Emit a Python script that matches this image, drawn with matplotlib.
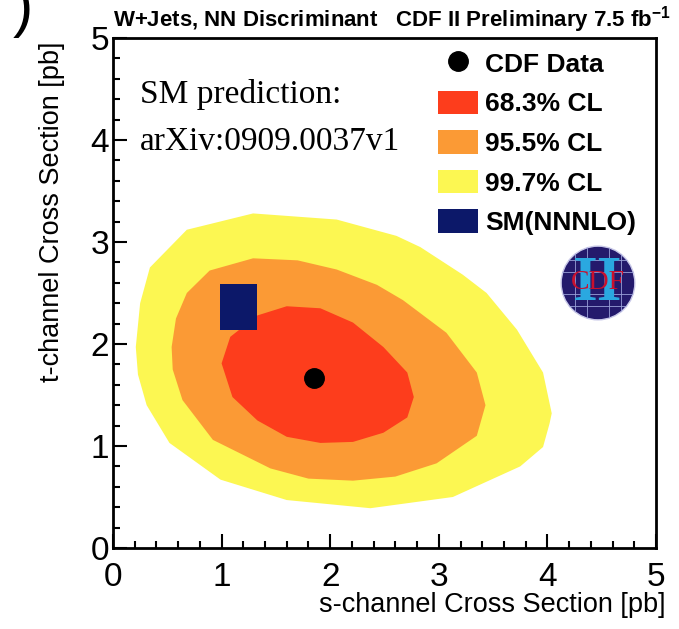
import numpy as np
import matplotlib
matplotlib.use("Agg")
from matplotlib import pyplot as plt
from matplotlib import patches as mpatches
from matplotlib.lines import Line2D

plt.rcParams['font.family'] = ['Liberation Sans', 'DejaVu Sans']
plt.rcParams['mathtext.fontset'] = 'custom'
plt.rcParams['mathtext.rm'] = 'Liberation Sans Narrow:bold'
plt.rcParams['mathtext.default'] = 'regular'

# contour boundaries (s-channel, t-channel in pb)
cl997_s = [0.21, 0.25, 0.34, 0.68, 1.29, 2.06, 2.61, 2.83, 3.22, 3.44, 3.72, 3.96,
           4.04, 4.02, 3.96, 3.75, 3.13, 2.37, 1.60, 0.99, 0.52, 0.31, 0.23]
cl997_t = [1.97, 2.40, 2.75, 3.12, 3.28, 3.22, 3.06, 2.95, 2.68, 2.50, 2.14, 1.72,
           1.32, 1.22, 0.99, 0.80, 0.50, 0.39, 0.47, 0.67, 1.03, 1.40, 1.70]

cl955_s = [0.54, 0.58, 0.68, 0.89, 1.29, 1.70, 2.06, 2.43, 2.67, 3.07, 3.35, 3.43,
           3.35, 2.98, 2.60, 2.21, 1.80, 1.45, 0.92, 0.64, 0.55]
cl955_t = [1.97, 2.25, 2.50, 2.72, 2.84, 2.82, 2.73, 2.58, 2.43, 2.11, 1.72, 1.40,
           1.10, 0.83, 0.70, 0.66, 0.68, 0.78, 1.06, 1.45, 1.75]

cl683_s = [1.00, 1.08, 1.33, 1.60, 1.91, 2.21, 2.49, 2.71, 2.77, 2.71, 2.49, 2.21,
           1.91, 1.60, 1.33, 1.10]
cl683_t = [1.81, 2.07, 2.28, 2.37, 2.35, 2.21, 1.97, 1.72, 1.48, 1.28, 1.13, 1.04,
           1.03, 1.09, 1.25, 1.48]

data_s = [1.85]
data_t = [1.67]
sm_s = [1.16]
sm_t = [2.365]

legend_labels = ['CDF Data', '68.3% CL', '95.5% CL', '99.7% CL', 'SM(NNNLO)']

red = '#fd3d1c'
orange = '#fb9a35'
yellow = '#fcf752'
navy = '#0c1869'

fig = plt.figure(figsize=(6.79, 6.29), dpi=100)
ax = fig.add_axes([0.1664, 0.1288, 0.7997, 0.8108])

ax.fill(cl997_s, cl997_t, color=yellow, lw=0, zorder=1)
ax.fill(cl955_s, cl955_t, color=orange, lw=0, zorder=2)
ax.fill(cl683_s, cl683_t, color=red, lw=0, zorder=3)
ax.plot(data_s, data_t, 'o', color='k', markersize=14, zorder=5)
for s, t in zip(sm_s, sm_t):
    ax.add_patch(mpatches.Rectangle((s - 0.17, t - 0.225), 0.34, 0.45,
                                    facecolor=navy, edgecolor='none', zorder=4))

ax.set_xlim(0, 5)
ax.set_ylim(0, 5)
ax.set_xticks(np.arange(0, 6, 1))
ax.set_yticks(np.arange(0, 6, 1))
ax.set_xticks(np.arange(0, 5.01, 0.2), minor=True)
ax.set_yticks(np.arange(0, 5.01, 0.2), minor=True)
ax.tick_params(which='both', direction='in', top=False, right=False, width=1.5,
               labelsize=24)
ax.tick_params(which='major', length=10)
ax.tick_params(which='minor', length=5)
ax.tick_params(axis='x', pad=10)
ax.tick_params(axis='y', pad=3)
for sp in ax.spines.values():
    sp.set_linewidth(2)

ax.set_xlabel('s-channel Cross Section [pb]', fontsize=19.5, loc='right')
ax.xaxis.set_label_coords(1.017, -0.086)
ax.set_ylabel('t-channel Cross Section [pb]', fontsize=19.5, loc='top')
ax.yaxis.set_label_coords(-0.088, 0.993)

ax.text(0.0, 1.006, 'W+Jets, NN Discriminant   CDF II Preliminary 7.5 fb$^{-1}$',
        transform=ax.transAxes, ha='left', va='bottom', fontsize=16,
        family=['Liberation Sans Narrow', 'Liberation Sans'], fontweight='bold')

ax.text(0.25, 4.36, 'SM prediction:', fontsize=24, family='Liberation Serif',
        va='baseline', zorder=6)
ax.text(0.25, 3.90, 'arXiv:0909.0037v1', fontsize=24, family='Liberation Serif',
        va='baseline', zorder=6)

handles = [Line2D([], [], marker='o', color='k', ls='none', markersize=14),
           mpatches.Patch(facecolor=red, edgecolor='none'),
           mpatches.Patch(facecolor=orange, edgecolor='none'),
           mpatches.Patch(facecolor=yellow, edgecolor='none'),
           mpatches.Patch(facecolor=navy, edgecolor='none')]
leg = ax.legend(handles, legend_labels, loc='upper left',
                bbox_to_anchor=((438 - 113) / 543, (548 - 51) / 510),
                frameon=False, borderpad=0, borderaxespad=0,
                handlelength=1.5, handleheight=1.0, handletextpad=0.3,
                labelspacing=0.52, prop={'size': 19, 'weight': 'bold'})

# CDF II logo
lax = fig.add_axes([(598 - 38) / 679, 1 - (283 + 38) / 629, 76 / 679, 76 / 629])
lax.set_xlim(-1, 1)
lax.set_ylim(-1, 1)
lax.axis('off')
circ = mpatches.Circle((0, 0), 0.97, facecolor='#241a6c', edgecolor='#c8c8e8', lw=1)
lax.add_patch(circ)
for v in [-0.6, -0.3, 0.3, 0.6]:
    l1, = lax.plot([v, v], [-1, 1], color='#9aa0d8', lw=0.6)
    l2, = lax.plot([-1, 1], [v, v], color='#9aa0d8', lw=0.6)
    l1.set_clip_path(circ)
    l2.set_clip_path(circ)
lax.text(0, -0.05, 'II', color='#2aa8e0', fontsize=46, fontweight='bold',
         family='Liberation Serif', ha='center', va='center')
lax.text(0, 0.02, 'CDF', color='#c8102e', fontsize=20,
         family='Liberation Serif', ha='center', va='center')

fig.text(0.018, 0.985, ')', fontsize=44, va='center', ha='left')

fig.savefig('out.png', dpi=100)
